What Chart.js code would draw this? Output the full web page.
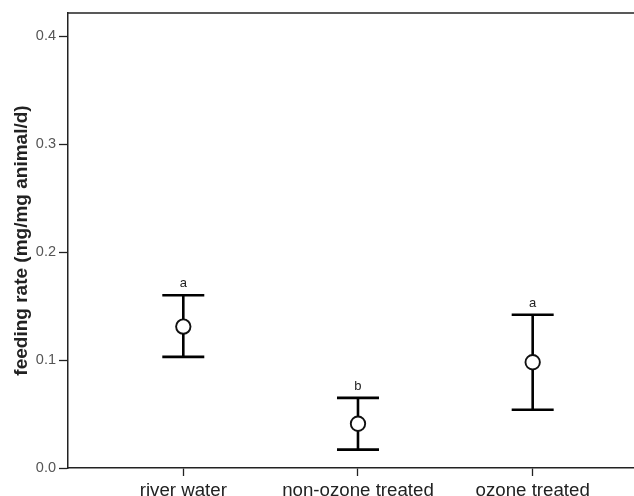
<!DOCTYPE html>
<html><head><meta charset="utf-8">
<script src="https://cdn.jsdelivr.net/npm/chart.js@4/dist/chart.umd.min.js"></script>
<style>html,body{margin:0;padding:0;background:#fff}#wrap{width:634px;height:496px}</style>
</head><body><div id="wrap"><canvas id="c" width="634" height="496"></canvas></div>
<script>
const categories = ["river water", "non-ozone treated", "ozone treated"];
const means = [0.131, 0.041, 0.098];
const upper = [0.160, 0.065, 0.142];
const lower = [0.103, 0.017, 0.054];
const sigLetters = ["a", "b", "a"];
const yTicks = [0.0, 0.1, 0.2, 0.3, 0.4];
const xPositions = [1, 2, 3];

const FONT = '"Liberation Sans", Arial, Helvetica, sans-serif';

const errPlugin = {
  id: 'err',
  afterDatasetsDraw(chart) {
    const ctx = chart.ctx, xs = chart.scales.x, ys = chart.scales.y, a = chart.chartArea;
    ctx.save();
    // top frame line
    ctx.strokeStyle = '#222'; ctx.lineWidth = 1.5;
    ctx.beginPath(); ctx.moveTo(a.left, a.top); ctx.lineTo(chart.width, a.top); ctx.stroke();
    ctx.strokeStyle = '#000'; ctx.lineWidth = 2.6; ctx.lineCap = 'butt';
    xPositions.forEach((xv, i) => {
      const x = xs.getPixelForValue(xv);
      const yt = ys.getPixelForValue(upper[i]);
      const yb = ys.getPixelForValue(lower[i]);
      const ym = ys.getPixelForValue(means[i]);
      const r = 7.5;
      ctx.beginPath();
      ctx.moveTo(x, yt); ctx.lineTo(x, ym - r);
      ctx.moveTo(x, ym + r); ctx.lineTo(x, yb);
      ctx.moveTo(x - 21, yt); ctx.lineTo(x + 21, yt);
      ctx.moveTo(x - 21, yb); ctx.lineTo(x + 21, yb);
      ctx.stroke();
      ctx.fillStyle = '#222';
      ctx.font = '13px ' + FONT;
      ctx.textAlign = 'center'; ctx.textBaseline = 'bottom';
      ctx.fillText(sigLetters[i], x, yt - 5);
    });
    ctx.restore();
  }
};

new Chart(document.getElementById('c'), {
  type: 'scatter',
  data: {
    datasets: [{
      data: xPositions.map((x, i) => ({ x: x, y: means[i] })),
      pointStyle: 'circle',
      pointRadius: 7.2,
      pointHoverRadius: 7.2,
      pointBackgroundColor: 'rgba(255,255,255,0)',
      pointBorderColor: '#111',
      pointBorderWidth: 1.9,
      clip: false
    }]
  },
  options: {
    responsive: false,
    animation: false,
    events: [],
    layout: { autoPadding: false, padding: { top: 13, right: 0, left: 0, bottom: 0 } },
    plugins: { legend: { display: false }, tooltip: { enabled: false } },
    scales: {
      x: {
        type: 'linear',
        min: 0.34, max: 3.58,
        afterBuildTicks(s) { s.ticks = xPositions.map(v => ({ value: v })); },
        afterFit(s) { s.height = 28; },
        ticks: {
          callback: (v) => categories[xPositions.indexOf(v)] || '',
          color: '#222', padding: 4, autoSkip: false, maxRotation: 0,
          font: { family: FONT, size: 18.7 }
        },
        grid: { drawOnChartArea: false, tickLength: 8, tickColor: '#222', tickWidth: 1.3 },
        border: { color: '#222', width: 1.5 }
      },
      y: {
        min: 0, max: 0.4216,
        afterBuildTicks(s) { s.ticks = yTicks.map(v => ({ value: v })); },
        afterFit(s) { s.width = 68; },
        ticks: {
          callback: (v) => v.toFixed(1),
          color: '#555', padding: 3,
          font: { family: FONT, size: 14.5 }
        },
        grid: { drawOnChartArea: false, tickLength: 9, tickColor: '#222', tickWidth: 1.3 },
        border: { color: '#222', width: 1.5 },
        title: {
          display: true, text: 'feeding rate (mg/mg animal/d)', color: '#222',
          padding: { top: 10, bottom: 0 },
          font: { family: FONT, size: 19, weight: 'bold' }
        }
      }
    }
  },
  plugins: [errPlugin]
});
</script></body></html>
